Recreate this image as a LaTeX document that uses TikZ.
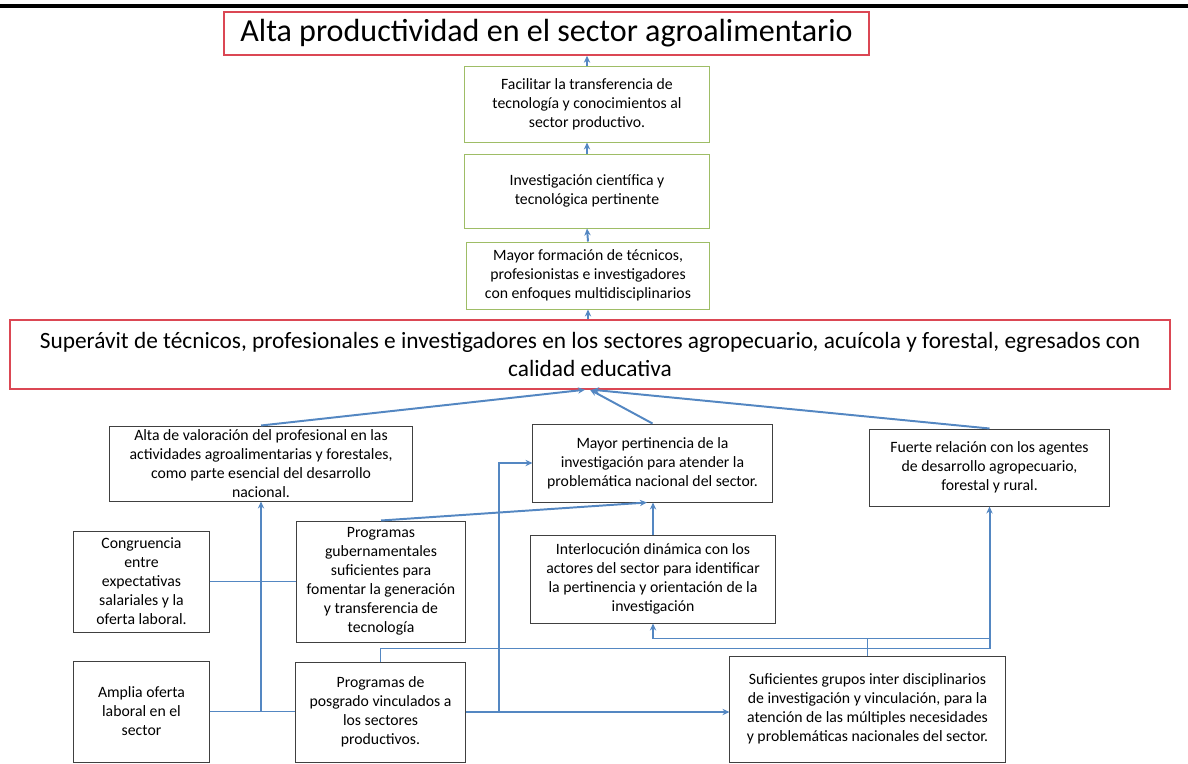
\documentclass[tikz,border=0pt]{standalone}
\usepackage{fontspec}
\setmainfont{Carlito}
\usetikzlibrary{arrows.meta}

\begin{document}
\begin{tikzpicture}[x=0.025cm,y=-0.025cm,
  box/.style={draw=cbox,line width=0.7pt,fill=white,align=center,inner sep=1pt,font=\fontsize{11.2}{13.5}\selectfont},
  gbox/.style={box,draw=cgreen},
  rbox/.style={box,draw=cred,line width=1pt},
  link/.style={draw=cline,line width=1.4pt},
  arr/.style={link,-{Stealth[length=5pt,width=4.5pt]}}]
\definecolor{cline}{rgb}{0.33,0.53,0.76}
\definecolor{cbox}{rgb}{0.25,0.25,0.25}
\definecolor{cgreen}{rgb}{0.62,0.74,0.40}
\definecolor{cred}{rgb}{0.86,0.28,0.33}
\useasboundingbox (0,0) rectangle (1188,763);
\draw[line width=2.2pt] (0,6) -- (1188,6);
%
\node[rbox,minimum width=16.125cm,minimum height=1.075cm,font=\fontsize{22.8}{26}\selectfont] (b0) at (546.5,33.5) {Alta productividad en el sector agroalimentario};
\node[gbox,minimum width=6.1cm,minimum height=1.875cm] (b1) at (587,104.5) {Facilitar la transferencia de\\tecnología y conocimientos al\\sector productivo.};
\node[gbox,minimum width=6.1cm,minimum height=1.85cm] (b2) at (587,191) {Investigación científica y\\tecnológica pertinente};
\node[gbox,minimum width=6.05cm,minimum height=1.675cm] (b3) at (588,275.5) {Mayor formación de técnicos,\\profesionistas e investigadores\\con enfoques multidisciplinarios};
\node[rbox,minimum width=29cm,minimum height=1.725cm,font=\fontsize{16.6}{19.5}\selectfont] (b4) at (590,354.5) {Superávit de técnicos, profesionales e investigadores en los sectores agropecuario, acuícola y forestal, egresados con\\calidad educativa};
\node[box,minimum width=7.55cm,minimum height=1.875cm] (b5) at (261,463.5) {Alta de valoración del profesional en las\\actividades agroalimentarias y forestales,\\como parte esencial del desarrollo\\nacional.};
\node[box,minimum width=5.975cm,minimum height=1.95cm] (b6) at (652.5,463) {Mayor pertinencia de la\\investigación para atender la\\problemática nacional del sector.};
\node[box,minimum width=5.975cm,minimum height=1.925cm] (b7) at (989.5,467.5) {Fuerte relación con los agentes\\de desarrollo agropecuario,\\forestal y rural.};
\node[box,minimum width=3.375cm,minimum height=2.525cm] (b8) at (141.5,581.5) {Congruencia\\entre\\expectativas\\salariales y la\\oferta laboral.};
\node[box,minimum width=4.2cm,minimum height=3.025cm] (b9) at (381,581.5) {Programas\\gubernamentales\\suficientes para\\fomentar la generación\\y transferencia de\\tecnología};
\node[box,minimum width=6.1cm,minimum height=2.2cm] (b10) at (653,579) {Interlocución dinámica con los\\actores del sector para identificar\\la pertinencia y orientación de la\\investigación};
\node[box,minimum width=3.375cm,minimum height=2.525cm] (b11) at (141.5,711.5) {Amplia oferta\\laboral en el\\sector};
\node[box,minimum width=4.225cm,minimum height=2.5cm] (b12) at (380.5,712) {Programas de\\posgrado vinculados a\\los sectores\\productivos.};
\node[box,minimum width=6.875cm,minimum height=2.65cm] (b13) at (867.5,709) {Suficientes grupos inter disciplinarios\\de investigación y vinculación, para la\\atención de las múltiples necesidades\\y problemáticas nacionales del sector.};
%
\coordinate (j0) at (b5.south |- b11.east);
\coordinate (j1) at (499,712);
\coordinate (j2) at ([yshift=0.325cm]b12.north);
\coordinate (j3) at ([yshift=0.425cm]b13.north);
%
\draw[arr] (b1.north) -- (b1.north |- b0.south);
\draw[arr] (b2.north) -- (b1.south);
\draw[arr] (b3.north) -- (b2.south);
\draw[arr] (b3.south |- b4.north) -- (b3.south);
\draw[arr] (b5.north) -- ([xshift=-0.125cm]b4.south);
\draw[arr] (b6.north) -- (b4.south);
\draw[arr] (b7.north) -- ([xshift=0.05cm]b4.south);
\draw[arr] (b9.north) -- ([xshift=-0.14cm]b6.south);
\draw[arr] (b10.north) -- (b10.north |- b6.south);
\draw[link] (b8.east) -- (b8.east -| b9.west);
\draw[link] (b11.east) -- (b11.east -| b12.west);
\draw[arr] (j0) -- (b5.south);
\draw[arr] (b12.east) -- (b12.east -| b13.west);
\draw[arr] (j1) |- (b6.west);
\draw[arr] (b12.north) -- (j2) -| (b7.south);
\draw[arr] (b13.north) -- (j3) -| (b10.south);
\draw[link] (j3) -- (j3 -| b7.south);
%
\end{tikzpicture}
\end{document}
